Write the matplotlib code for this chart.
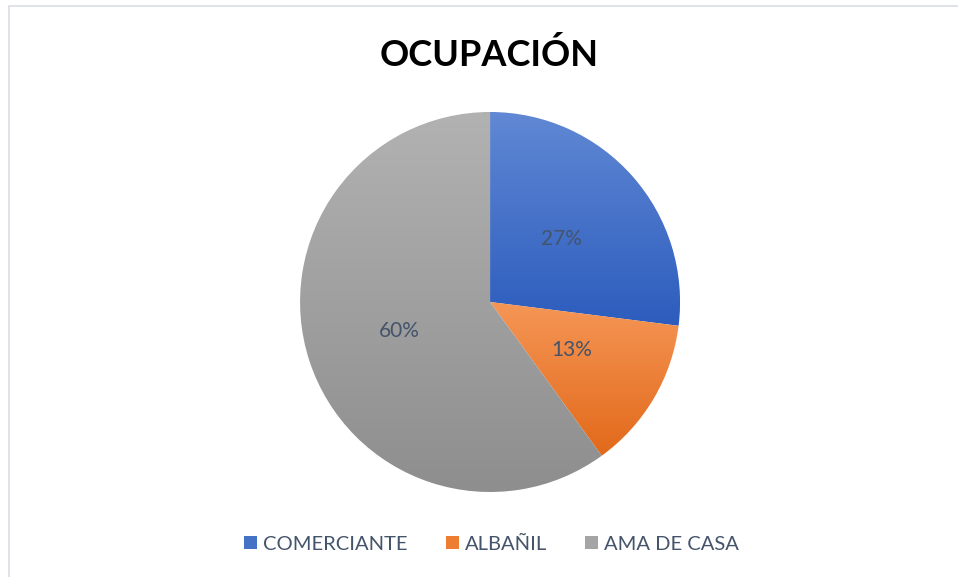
import numpy as np
import matplotlib
matplotlib.use("Agg")
import matplotlib.pyplot as plt
from matplotlib.colors import LinearSegmentedColormap
from matplotlib.patches import Patch, Rectangle

plt.rcParams['font.family'] = ['Lato', 'DejaVu Sans']

labels = ['COMERCIANTE', 'ALBAÑIL', 'AMA DE CASA']
values = [27, 13, 60]
# gradient: top colour, bottom colour
grad_top = ['#6088d4', '#f59656', '#b2b2b2']
grad_bot = ['#2c5cbd', '#e2691a', '#8e8e8e']
solid = ['#4472c4', '#ed7d31', '#a5a5a5']
text_col = '#44546a'

fig = plt.figure(figsize=(9.58, 5.77), dpi=100)
ax = fig.add_axes([0.3132, 0.1473, 0.3967, 0.6586])

wedges, texts, autotexts = ax.pie(values, startangle=90, counterclock=False,
                                  colors=solid, autopct='%1.0f%%', pctdistance=0.5,
                                  textprops={'fontsize': 15, 'color': text_col})

# vertical gradient fill for each slice
for w, c1, c2 in zip(wedges, grad_top, grad_bot):
    ext = w.get_path().get_extents(w.get_patch_transform())
    cmap = LinearSegmentedColormap.from_list('g', [c2, c1])
    grad = np.linspace(0, 1, 256).reshape(-1, 1)
    im = ax.imshow(grad, cmap=cmap, origin='lower', aspect='auto',
                   extent=[ext.x0, ext.x1, ext.y0, ext.y1], zorder=w.get_zorder())
    im.set_clip_path(w)
    w.set_alpha(0)
for t in autotexts:
    t.set_zorder(5)
ax.set_xlim(-1, 1)
ax.set_ylim(-1, 1)
ax.set_aspect('equal')

fig.text(0.5105, 0.905, 'OCUPACIÓN', ha='center', va='center',
         fontsize=26, fontweight='bold', color='black')

handles = [Patch(facecolor=c, edgecolor='none') for c in solid]
fig.legend(handles, labels, loc='center', bbox_to_anchor=(0.513, 0.057), ncol=3,
           frameon=False, fontsize=14.5, labelcolor=text_col, handlelength=0.65,
           handleheight=0.65, handletextpad=0.3, columnspacing=1.9)

# chart border
fig.patches.append(Rectangle((9 / 958, -0.01), 1.0, 1 - 6 / 577 + 0.01,
                             transform=fig.transFigure, fill=False,
                             edgecolor='#d9dde3', linewidth=1.2))

fig.savefig('out.png', dpi=100)
